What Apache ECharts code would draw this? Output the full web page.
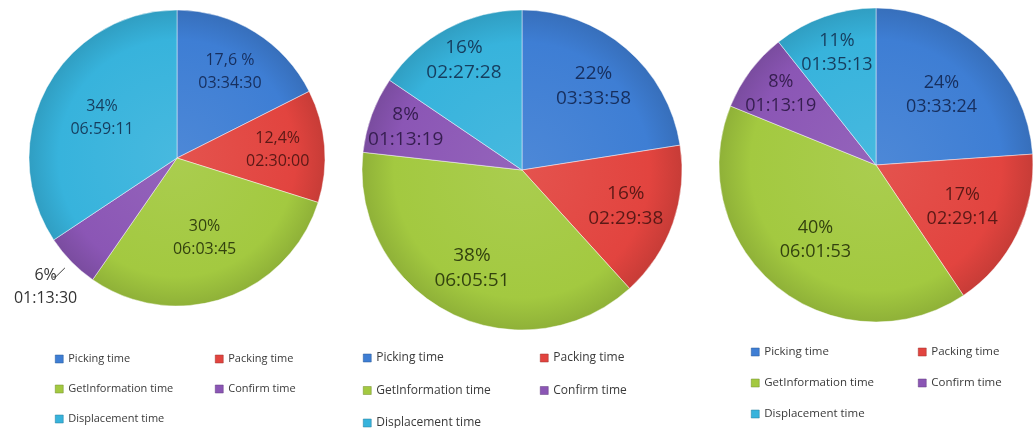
<!DOCTYPE html>
<html>
<head>
<meta charset="utf-8">
<script src="https://cdn.jsdelivr.net/npm/echarts@6/dist/echarts.min.js"></script>
<style>
  html, body { margin: 0; padding: 0; background: #ffffff; }
  #chart { width: 1035px; height: 428px; }
</style>
</head>
<body>
<div id="chart"></div>
<script>
// Time breakdown per activity, three measurement runs
const categories = ['Picking time', 'Packing time', 'GetInformation time', 'Confirm time', 'Displacement time'];

const timesRun1 = ['03:34:30', '02:30:00', '06:03:45', '01:13:30', '06:59:11'];
const percentRun1 = ['17,6 %', '12,4%', '30%', '6%', '34%'];

const timesRun2 = ['03:33:58', '02:29:38', '06:05:51', '01:13:19', '02:27:28'];
const percentRun2 = ['22%', '16%', '38%', '8%', '16%'];

const timesRun3 = ['03:33:24', '02:29:14', '06:01:53', '01:13:19', '01:35:13'];
const percentRun3 = ['24%', '17%', '40%', '8%', '11%'];

// Styling
const sliceColors = ['#3E7ED4', '#E2443F', '#A3C940', '#8B56B5', '#37B3DC'];
const labelColors = ['#172F5E', '#5A1916', '#33420F', '#361E50', '#163D5E'];
const labelFont = '"Open Sans", "Noto Sans", sans-serif';
const legendFont = '"Open Sans", "Noto Sans", sans-serif';

function toSeconds(t) {
  const p = t.split(':').map(Number);
  return p[0] * 3600 + p[1] * 60 + p[2];
}

function shade(hex, amt) {
  const n = parseInt(hex.slice(1), 16);
  const r = (n >> 16) & 255, g = (n >> 8) & 255, b = n & 255;
  const f = (c) => Math.max(0, Math.min(255, Math.round(amt >= 0 ? c + (255 - c) * amt : c * (1 + amt))));
  return 'rgb(' + f(r) + ',' + f(g) + ',' + f(b) + ')';
}

function sliceFill(color, cx, cy, r) {
  return {
    type: 'radial', x: cx, y: cy, r: r, global: true,
    colorStops: [
      { offset: 0, color: shade(color, 0.08) },
      { offset: 0.8, color: color },
      { offset: 1, color: shade(color, -0.12) }
    ]
  };
}

// Layout of each pie, its label rings and legend columns
const pies = [
  {
    times: timesRun1, percents: percentRun1,
    center: [177, 158], r: 148, fontSize: 16, lineHeight: 23,
    rings: [
      { mid: 98, show: [0, 1] },
      { mid: 82, show: [2, 4] },
      { mid: 181, show: [3], color: '#333333' }
    ],
    leader: { index: 3, radius: 157, length: 13, length2: 3 },
    legend: { left: [55, 215], top: 353, gap: 18, fontSize: 11 }
  },
  {
    times: timesRun2, percents: percentRun2,
    center: [522, 170], r: 160, fontSize: 19, lineHeight: 25,
    rings: [
      { mid: 107, show: [0, 1, 2] },
      { mid: 121, show: [3, 4] }
    ],
    leader: null,
    legend: { left: [363, 540], top: 352, gap: 20.5, fontSize: 12 }
  },
  {
    times: timesRun3, percents: percentRun3,
    center: [876, 165], r: 157, fontSize: 18, lineHeight: 24,
    rings: [
      { mid: 93, show: [0, 1, 2] },
      { mid: 116, show: [3, 4] }
    ],
    leader: null,
    legend: { left: [751, 918], top: 346, gap: 19, fontSize: 11.5 }
  }
];

const series = [];
const legends = [];

pies.forEach((pie, pi) => {
  const [cx, cy] = pie.center;
  const values = pie.times.map(toSeconds);

  // visible slices
  series.push({
    type: 'pie',
    name: 'run' + (pi + 1),
    center: pie.center,
    radius: [0, pie.r],
    startAngle: 90,
    clockwise: true,
    avoidLabelOverlap: false,
    emphasis: { disabled: true },
    label: { show: false },
    labelLine: { show: false },
    data: categories.map((name, i) => ({
      name: name,
      value: values[i],
      itemStyle: {
        color: sliceFill(sliceColors[i], cx, cy, pie.r),
        borderColor: 'rgba(255,255,255,0.45)',
        borderWidth: 1
      }
    }))
  });

  // leader line for a label placed outside the pie
  if (pie.leader) {
    const ld = pie.leader;
    series.push({
      type: 'pie',
      name: 'run' + (pi + 1) + '-leader',
      center: pie.center,
      radius: [0, ld.radius],
      startAngle: 90,
      clockwise: true,
      silent: true,
      z: 1,
      avoidLabelOverlap: false,
      labelLayout: { hideOverlap: false },
      emphasis: { disabled: true },
      itemStyle: { color: 'rgba(0,0,0,0)' },
      data: categories.map((name, i) => ({
        name: name,
        value: values[i],
        label: i === ld.index
          ? { show: true, position: 'outside', formatter: pie.percents[i], color: 'rgba(0,0,0,0)', fontSize: pie.fontSize, fontFamily: labelFont }
          : { show: false },
        labelLine: i === ld.index
          ? { show: true, length: ld.length, length2: ld.length2, lineStyle: { color: '#404040', width: 1 } }
          : { show: false }
      }))
    });
  }

  // label rings (transparent) carrying the slice annotations
  pie.rings.forEach((ring) => {
    series.push({
      type: 'pie',
      name: 'run' + (pi + 1) + '-labels',
      center: pie.center,
      radius: [ring.mid - 10, ring.mid + 10],
      startAngle: 90,
      clockwise: true,
      silent: true,
      avoidLabelOverlap: false,
      labelLayout: { hideOverlap: false },
      emphasis: { disabled: true },
      itemStyle: { color: 'rgba(0,0,0,0)' },
      labelLine: { show: false },
      data: categories.map((name, i) => ({
        name: name,
        value: values[i],
        label: {
          show: ring.show.indexOf(i) >= 0,
          position: 'inside',
          formatter: pie.percents[i] + '\n' + pie.times[i],
          color: ring.color || labelColors[i],
          fontSize: pie.fontSize,
          lineHeight: pie.lineHeight,
          fontFamily: labelFont
        }
      }))
    });
  });

  // legend in two columns
  const cols = [[0, 2, 4], [1, 3]];
  cols.forEach((col, ci) => {
    legends.push({
      orient: 'vertical',
      left: pie.legend.left[ci],
      top: pie.legend.top,
      height: 120,
      itemGap: pie.legend.gap,
      itemWidth: 8,
      itemHeight: 8,
      icon: 'rect',
      padding: 0,
      selectedMode: false,
      textStyle: {
        fontSize: pie.legend.fontSize, lineHeight: 12,
        color: '#3a3a3a', fontFamily: legendFont
      },
      data: col.map((i) => ({
        name: categories[i],
        itemStyle: { color: sliceColors[i], borderColor: shade(sliceColors[i], -0.3), borderWidth: 0.5 }
      }))
    });
  });
});

const chart = echarts.init(document.getElementById('chart'), null, { renderer: 'canvas' });
chart.setOption({
  backgroundColor: '#ffffff',
  animation: false,
  legend: legends,
  series: series
});
</script>
</body>
</html>
